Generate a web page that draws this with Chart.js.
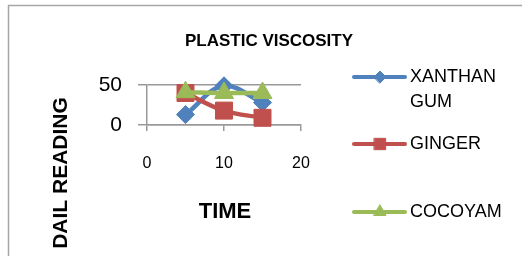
<!DOCTYPE html>
<html>
<head>
<meta charset="utf-8">
<script src="https://cdn.jsdelivr.net/npm/chart.js@4/dist/chart.umd.min.js"></script>
<style>
  html, body { margin: 0; padding: 0; background: #fff; }
  #wrap { width: 522px; height: 256px; }
</style>
</head>
<body>
<div id="wrap"><canvas id="viscosityChart"></canvas></div>
<script>
const time_values = [5, 10, 15];
const xanthan_values = [13, 49, 28];
const ginger_values = [40, 18, 9];
const cocoyam_values = [41, 40, 40];
const x_ticks = [0, 10, 20];
const y_ticks = [0, 50];

const series_names = [['XANTHAN', 'GUM'], ['GINGER'], ['COCOYAM']];
const series_colors = ['#4f81bd', '#c0504d', '#9bbb59'];
const series_styles = ['rectRot', 'rect', 'triangle'];

const font_face = '"Liberation Sans", Arial, sans-serif';

const toPoints = function(ys) {
	return time_values.map(function(t, i) { return { x: t, y: ys[i] }; });
};

const makeDataset = function(idx, ys, radius, order) {
	return {
		label: series_names[idx].join(' '),
		data: toPoints(ys),
		showLine: true,
		borderColor: series_colors[idx],
		backgroundColor: series_colors[idx],
		borderWidth: 4.5,
		tension: 0.4,
		pointStyle: series_styles[idx],
		pointRadius: radius,
		pointBorderWidth: 1,
		pointBorderColor: series_colors[idx],
		clip: false,
		order: order
	};
};

// titles, legend and frame drawn on the canvas
const decorations = {
	id: 'decorations',
	beforeDraw: function(chart) {
		const ctx = chart.ctx;
		ctx.save();
		ctx.fillStyle = '#fff';
		ctx.fillRect(0, 0, chart.width, chart.height);
		ctx.strokeStyle = '#a6a6a6';
		ctx.lineWidth = 1.5;
		ctx.beginPath();
		ctx.moveTo(8.5, chart.height);
		ctx.lineTo(8.5, 5.5);
		ctx.lineTo(chart.width, 5.5);
		ctx.stroke();
		ctx.restore();
	},
	afterDraw: function(chart) {
		const ctx = chart.ctx;
		ctx.save();
		ctx.fillStyle = '#000';
		ctx.textAlign = 'center';
		ctx.textBaseline = 'middle';

		ctx.font = 'bold 17px ' + font_face;
		ctx.fillText('PLASTIC VISCOSITY', 269, 41);

		ctx.font = 'bold 22px ' + font_face;
		ctx.fillText('TIME', 225, 212);

		ctx.save();
		ctx.translate(61, 173);
		ctx.rotate(-Math.PI / 2);
		ctx.font = 'bold 21px ' + font_face;
		ctx.fillText('DAIL READING', 0, 0);
		ctx.restore();

		// legend
		const rows = [77, 144, 212];
		const marker_r = [6, 8, 7];
		ctx.textAlign = 'left';
		ctx.font = '18px ' + font_face;
		rows.forEach(function(y, i) {
			ctx.strokeStyle = series_colors[i];
			ctx.lineWidth = 4;
			ctx.lineCap = 'round';
			ctx.beginPath();
			ctx.moveTo(354, y);
			ctx.lineTo(405, y);
			ctx.stroke();
			ctx.lineWidth = 1;
			ctx.fillStyle = series_colors[i];
			Chart.helpers.drawPoint(ctx, {
				pointStyle: series_styles[i],
				radius: marker_r[i],
				rotation: 0,
				borderWidth: 1
			}, 380, y);
			ctx.fillStyle = '#000';
			series_names[i].forEach(function(line, j) {
				ctx.fillText(line, 410, y + j * 25);
			});
		});
		ctx.restore();
	}
};

new Chart(document.getElementById('viscosityChart'), {
	type: 'scatter',
	data: {
		datasets: [
			makeDataset(0, xanthan_values, 9, 3),
			makeDataset(1, ginger_values, 12, 2),
			makeDataset(2, cocoyam_values, 11, 1)
		]
	},
	options: {
		responsive: true,
		maintainAspectRatio: false,
		animation: false,
		layout: { padding: { top: 85, right: 221, left: 0, bottom: 0 } },
		plugins: {
			legend: { display: false },
			title: { display: false },
			tooltip: { enabled: false }
		},
		scales: {
			x: {
				type: 'linear',
				min: 0,
				max: 20,
				afterFit: function(scale) { scale.height = 131; },
				afterBuildTicks: function(scale) {
					scale.ticks = x_ticks.map(function(v) { return { value: v }; });
				},
				ticks: {
					color: '#000',
					font: { family: font_face, size: 16 },
					padding: 23,
					maxRotation: 0
				},
				grid: {
					drawOnChartArea: false,
					drawTicks: true,
					tickLength: 6,
					color: '#999',
					lineWidth: 1.5
				},
				border: { display: true, color: '#999', width: 1.5 }
			},
			y: {
				type: 'linear',
				min: 0,
				max: 50,
				afterFit: function(scale) { scale.width = 147; },
				afterBuildTicks: function(scale) {
					scale.ticks = y_ticks.map(function(v) { return { value: v }; });
				},
				ticks: {
					color: '#000',
					font: { family: font_face, size: 21 },
					padding: 16
				},
				grid: {
					drawTicks: true,
					tickLength: 9,
					color: '#999',
					lineWidth: 1.5
				},
				border: { display: true, color: '#999', width: 1.5 }
			}
		}
	},
	plugins: [decorations]
});
</script>
</body>
</html>
